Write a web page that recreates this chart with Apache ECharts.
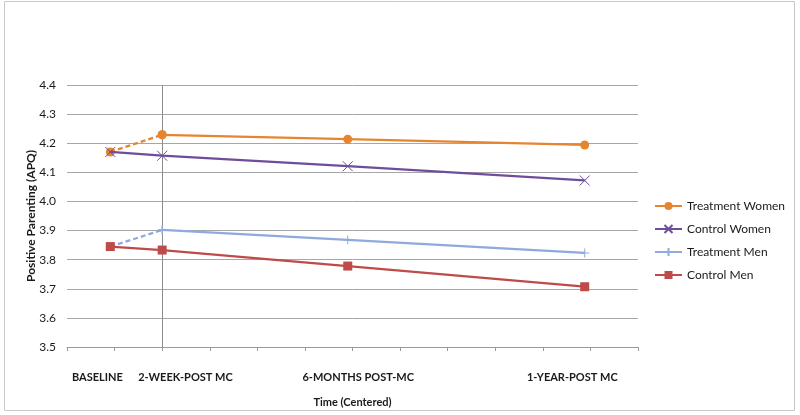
<!DOCTYPE html>
<html>
<head>
<meta charset="utf-8">
<script src="https://cdn.jsdelivr.net/npm/echarts@6/dist/echarts.min.js"></script>
<style>html,body{margin:0;padding:0;background:#fff}#c{width:800px;height:415px}</style>
</head>
<body>
<div id="c"></div>
<script>
// Time positions (centered; 2-week post = 0)
const timeX = [-1.09, 0, 3.90, 8.88];
const timeLabels = ['BASELINE', '2-WEEK-POST MC', '6-MONTHS POST-MC', '1-YEAR-POST MC'];
const labelX = [-1.36, 0.49, 4.12, 8.62];

const seriesNames = ['Treatment Women', 'Control Women', 'Treatment Men', 'Control Men'];
const treatmentWomen = [4.17, 4.229, 4.214, 4.194];
const controlWomen = [4.17, 4.157, 4.121, 4.072];
const treatmentMen = [3.845, 3.902, 3.868, 3.823];
const controlMen = [3.845, 3.833, 3.778, 3.707];

const yTicks = [3.5, 4.4, 0.1];

const colors = ['#E5852F', '#6E4D9C', '#8FAADC', '#BE4B48'];
const XSYM = 'path://M0,0L10,10M10,0L0,10';
const PSYM = 'path://M5,0L5,10M0,5L10,5';
const FONT = 'Lato';

function pts(vals, from, to) {
  const out = [];
  for (let i = from; i <= to; i++) out.push([timeX[i], vals[i]]);
  return out;
}

const symbols = [
  {symbol: 'circle', size: 9},
  {symbol: XSYM, size: 10},
  {symbol: PSYM, size: 9},
  {symbol: 'rect', size: 9}
];
const allVals = [treatmentWomen, controlWomen, treatmentMen, controlMen];
const dashedFrom = [true, false, true, false];

const series = [];
// dashed baseline segments for treatment groups
allVals.forEach((vals, i) => {
  if (!dashedFrom[i]) return;
  series.push({
    name: seriesNames[i] + ' (baseline)',
    type: 'line',
    data: pts(vals, 0, 1),
    symbol: symbols[i].symbol,
    symbolSize: symbols[i].size,
    showSymbol: true,
    lineStyle: {color: colors[i], width: 2.25, type: [5, 3]},
    itemStyle: {color: colors[i], borderColor: colors[i], borderWidth: i === 2 ? 1 : 0},
    z: 2
  });
});
allVals.forEach((vals, i) => {
  const s = {
    name: seriesNames[i],
    type: 'line',
    data: dashedFrom[i] ? pts(vals, 1, 3) : pts(vals, 0, 3),
    symbol: symbols[i].symbol,
    symbolSize: symbols[i].size,
    lineStyle: {color: colors[i], width: 2.25},
    itemStyle: {color: colors[i], borderColor: colors[i], borderWidth: (i === 1 || i === 2) ? 1 : 0},
    z: 3
  };
  if (i === 0) {
    s.markLine = {
      silent: true,
      symbol: 'none',
      label: {show: false},
      lineStyle: {color: '#8c8c8c', width: 1, type: 'solid'},
      data: [{xAxis: 0}],
      z: 1
    };
  }
  series.push(s);
});

const chart = echarts.init(document.getElementById('c'));
chart.setOption({
  animation: false,
  backgroundColor: '#fff',
  textStyle: {fontFamily: FONT},
  graphic: [{
    type: 'rect', shape: {x: 4.5, y: 1.5, width: 790, height: 409},
    style: {fill: 'none', stroke: '#c8c8c8', lineWidth: 1}, silent: true, z: -1
  }],
  grid: {left: 67, right: 162, top: 85, bottom: 68, containLabel: false, outerBoundsMode: 'none'},
  legend: {
    orient: 'vertical',
    left: 649, top: 194,
    itemWidth: 27, itemHeight: 10, itemGap: 9,
    data: seriesNames,
    textStyle: {fontFamily: FONT, fontSize: 12, color: '#1a1a1a', lineHeight: 14}
  },
  xAxis: [{
    type: 'value', min: -2, max: 10, interval: 1,
    name: 'Time (Centered)', nameLocation: 'middle', nameGap: 50, nameMoveOverlap: false,
    nameTextStyle: {fontFamily: FONT, fontWeight: 'bold', fontSize: 11, color: '#1a1a1a'},
    axisLine: {show: true, onZero: false, lineStyle: {color: '#9a9a9a', width: 1}},
    axisTick: {show: true, length: 4, lineStyle: {color: '#9a9a9a'}},
    axisLabel: {show: false},
    splitLine: {show: false}
  }, {
    type: 'value', min: -2, max: 10, position: 'bottom',
    axisLine: {show: false}, axisTick: {show: false}, splitLine: {show: false},
    axisLabel: {
      show: true, customValues: labelX, margin: 25,
      fontFamily: FONT, fontWeight: 'bold', fontSize: 11, color: '#1a1a1a',
      formatter: function (v) {
        let best = 0, d = Infinity;
        labelX.forEach((x, k) => { const dd = Math.abs(x - v); if (dd < d) { d = dd; best = k; } });
        return timeLabels[best];
      }
    }
  }],
  yAxis: {
    type: 'value', min: yTicks[0], max: yTicks[1], interval: yTicks[2],
    name: 'Positive Parenting (APQ)', nameLocation: 'middle', nameGap: 30, nameMoveOverlap: false,
    nameTextStyle: {fontFamily: FONT, fontWeight: 'bold', fontSize: 12, color: '#1a1a1a'},
    axisLine: {show: false}, axisTick: {show: false},
    axisLabel: {margin: 11, fontFamily: FONT, fontSize: 12, color: '#1a1a1a',
      formatter: v => v.toFixed(1)},
    splitLine: {lineStyle: {color: '#a6a6a6', width: 1}}
  },
  series: series
});
</script>
</body>
</html>
